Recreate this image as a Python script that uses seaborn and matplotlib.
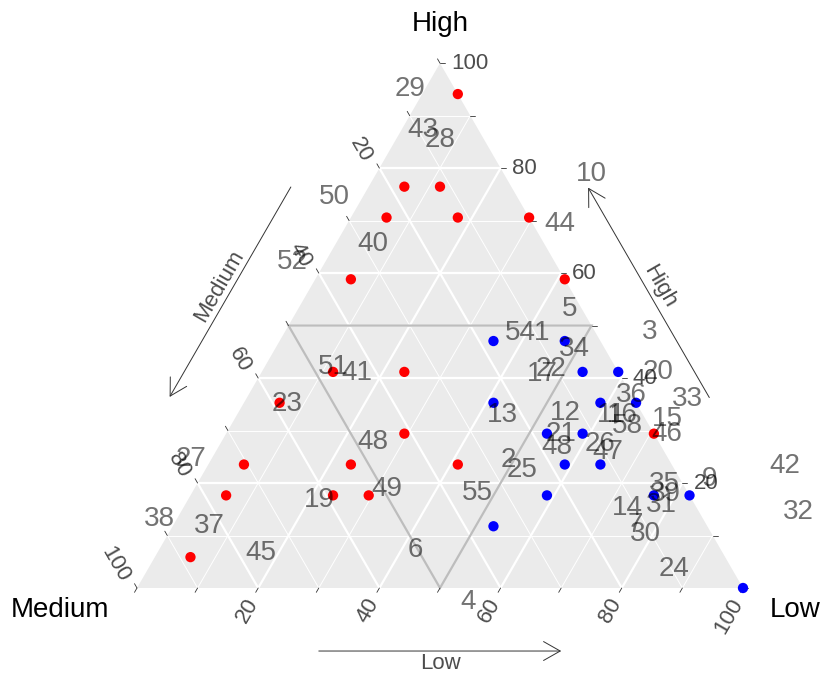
import numpy as np
import pandas as pd
import matplotlib
matplotlib.use("Agg")
import matplotlib.pyplot as plt
import seaborn as sns
from matplotlib.patches import Polygon

sns.set_theme(style="white")
plt.rcParams['font.family'] = ['Liberation Sans', 'DejaVu Sans']

# ---- composition data: items (out of 17) rated High / Medium / Low ----
red_high   = [16, 13, 13, 12, 12, 12, 10, 10, 7, 7, 6, 5, 5, 4, 4, 4, 3, 3, 3, 1]
red_medium = [0, 3, 2, 4, 2, 0, 6, 0, 8, 6, 10, 7, 0, 12, 9, 6, 13, 10, 9, 15]
red_low    = [1, 1, 2, 1, 3, 5, 1, 7, 2, 4, 1, 5, 12, 1, 4, 7, 1, 4, 5, 1]

blue_high   = [8, 8, 7, 7, 6, 6, 6, 5, 5, 4, 4, 3, 3, 3, 2, 0]
blue_medium = [3, 1, 1, 0, 4, 1, 0, 3, 2, 3, 2, 4, 1, 0, 6, 0]
blue_low    = [6, 8, 9, 10, 7, 10, 11, 9, 10, 10, 11, 10, 13, 14, 9, 17]

# ---- sample id labels, positioned by (High %, Low %) ----
label_text = ["29", "43", "28", "50", "44", "10", "40", "52", "5", "54",
              "1", "3", "34", "22", "17", "20", "33", "36", "13", "12",
              "11", "16", "58", "15", "46", "21", "48", "26", "47", "2",
              "25", "55", "35", "39", "31", "9", "42", "32", "14", "7",
              "30", "24", "4", "6", "45", "37", "38", "27", "19", "49",
              "48", "41", "51", "23"]
label_high = [95.4, 87.6, 85.7, 74.9, 69.7, 79.2, 65.9, 62.5, 53.5, 49.0,
              49.0, 49.1, 45.9, 42.1, 41.1, 41.5, 36.4, 37.1, 33.3, 33.7,
              33.3, 33.3, 31.2, 32.6, 29.7, 29.7, 27.2, 27.8, 26.3, 24.8,
              22.9, 18.5, 20.2, 18.3, 16.2, 21.1, 23.6, 14.9, 15.6, 12.4,
              10.7, 4.0, -2.3, 7.6, 7.0, 12.2, 13.5, 25.0, 17.1, 19.2,
              28.2, 41.3, 42.5, 35.4]
label_low = [-2.7, 3.4, 7.1, -4.8, 35.0, 35.3, 6.0, -5.7, 44.7, 38.7,
             42.3, 60.1, 49.3, 47.3, 46.4, 65.2, 72.7, 63.0, 43.6, 53.9,
             61.7, 63.4, 65.3, 71.2, 72.6, 55.1, 55.7, 62.5, 64.6, 48.8,
             52.1, 46.9, 77.0, 78.0, 78.4, 84.0, 95.1, 101.6, 73.2, 76.0,
             78.5, 86.6, 55.8, 42.1, 17.0, 5.8, -3.0, -3.6, 21.5, 31.7,
             24.8, 15.7, 11.1, 7.1]

tick_values = [20, 40, 60, 80, 100]

SQ3 = np.sqrt(3) / 2


def tern_xy(high, medium, low):
    """Project a High/Medium/Low composition onto the plane (percent units)."""
    high = np.asarray(high, float)
    medium = np.asarray(medium, float)
    low = np.asarray(low, float)
    tot = high + medium + low
    h = high / tot * 100
    l = low / tot * 100
    return l + h / 2, h * SQ3


# ---- figure & axes: 6.06 px per percent ----
PX = 6.06
XLIM = (-137 / PX, (825 - 137) / PX)
YLIM = (-(675 - 588) / PX, 588 / PX)
fig = plt.figure(figsize=(8.25, 6.75), dpi=100)
ax = fig.add_axes([0, 0, 1, 1])

V_med = tern_xy(0, 100, 0)
V_low = tern_xy(0, 0, 100)
V_high = tern_xy(100, 0, 0)
ax.add_patch(Polygon([V_med, V_low, V_high], closed=True,
                     fc="#EBEBEB", ec="none", zorder=0))

# grid
for v in range(10, 100, 10):
    major = v % 20 == 0
    lw = 1.6 if major else 0.7
    segs = [
        (tern_xy(v, 100 - v, 0), tern_xy(v, 0, 100 - v)),    # constant High
        (tern_xy(0, 100 - v, v), tern_xy(100 - v, 0, v)),    # constant Low
        (tern_xy(0, v, 100 - v), tern_xy(100 - v, v, 0)),    # constant Medium
    ]
    for a, b in segs:
        ax.plot([a[0], b[0]], [a[1], b[1]], color="white", lw=lw,
                solid_capstyle="butt", zorder=1)

# central region (all components <= 50 %)
inner = [tern_xy(50, 50, 0), tern_xy(50, 0, 50), tern_xy(0, 50, 50)]
ax.add_patch(Polygon(inner, closed=True, fc="none", ec="#BDBDBD",
                     lw=1.6, zorder=2))

# ticks
tl = 5 / PX
tick_col = "#333333"
for v in range(0, 101, 10):
    # High axis (right edge)
    x, y = tern_xy(v, 0, 100 - v)
    ax.plot([x, x + tl], [y, y], color=tick_col, lw=0.6, zorder=2)
    # Medium axis (left edge)
    x, y = tern_xy(100 - v, v, 0)
    ax.plot([x, x - 0.5 * tl], [y, y + SQ3 * tl], color=tick_col, lw=0.6, zorder=2)
    # Low axis (bottom edge)
    x, y = tern_xy(0, 100 - v, v)
    ax.plot([x, x - 0.5 * tl], [y, y - SQ3 * tl], color=tick_col, lw=0.6, zorder=2)

tick_fs = 16
tick_tc = "#4D4D4D"
for v in tick_values:
    x, y = tern_xy(v, 0, 100 - v)
    ax.text(x + 11 / PX, y, str(v), ha="left", va="center",
            fontsize=tick_fs, color=tick_tc)
    x, y = tern_xy(100 - v, v, 0)
    ax.text(x - 12 / PX, y + 7 / PX, str(v), ha="right", va="center",
            rotation=-60, rotation_mode="anchor", fontsize=tick_fs, color=tick_tc)
    x, y = tern_xy(0, 100 - v, v)
    ax.text(x - 5 / PX, y - 12 / PX, str(v), ha="right", va="center",
            rotation=60, rotation_mode="anchor", fontsize=tick_fs, color=tick_tc)

# vertex titles
title_fs = 20
ax.text(V_high[0], V_high[1] + 6.5, "High", ha="center", va="center",
        fontsize=title_fs, color="black")
ax.text(V_med[0] - 12.7, V_med[1] - 3.6, "Medium", ha="center", va="center",
        fontsize=title_fs, color="black")
ax.text(V_low[0] + 8.6, V_low[1] - 3.6, "Low", ha="center", va="center",
        fontsize=title_fs, color="black")


# direction arrows along each edge
def edge_point(p0, p1, f, d):
    p0 = np.asarray(p0); p1 = np.asarray(p1)
    t = (p1 - p0) / np.linalg.norm(p1 - p0)
    n = np.array([t[1], -t[0]])  # outward normal (counter-clockwise vertex order)
    return p0 + (p1 - p0) * f + n * d


arrow_kw = dict(arrowstyle="->,head_length=0.6,head_width=0.34",
                color="#333333", lw=0.7, shrinkA=0, shrinkB=0,
                mutation_scale=20)
# edges in counter-clockwise order: Medium->Low (bottom), Low->High (right), High->Medium (left)
arrows = [
    (V_med, V_low, 0.30, 0.70, 10.4, "Low", 0),
    (V_low, V_high, 0.30, 0.70, 10.9, "High", -60),
    (V_high, V_med, 0.30, 0.70, 11.1, "Medium", 60),
]
for p0, p1, f0, f1, d, lab, rot in arrows:
    s = edge_point(p0, p1, f0, d)
    e = edge_point(p0, p1, f1, d)
    ax.annotate("", xy=e, xytext=s, arrowprops=arrow_kw)
    tp = edge_point(p0, p1, 0.5, d + 2.1)
    ax.text(tp[0], tp[1], lab, ha="center", va="center", rotation=rot,
            fontsize=16, color=tick_tc)

# data points
rx, ry = tern_xy(red_high, red_medium, red_low)
bx, by = tern_xy(blue_high, blue_medium, blue_low)
df = pd.DataFrame({
    "x": np.concatenate([rx, bx]),
    "y": np.concatenate([ry, by]),
    "group": ["A"] * len(rx) + ["B"] * len(bx),
})
sns.scatterplot(data=df, x="x", y="y", hue="group",
                palette={"A": "#FF0000", "B": "#0000FF"},
                s=55, linewidth=0, legend=False, ax=ax, zorder=3)

# sample id labels
lm = [100 - h - l for h, l in zip(label_high, label_low)]
lx, ly = tern_xy(label_high, lm, label_low)
for t, x, y in zip(label_text, lx, ly):
    ax.text(x, y - 0.3, t, ha="center", va="center", fontsize=20,
            color="black", alpha=0.55, zorder=4)

ax.set_xlim(*XLIM)
ax.set_ylim(*YLIM)
ax.set_axis_off()

fig.savefig("out.png", dpi=100)
